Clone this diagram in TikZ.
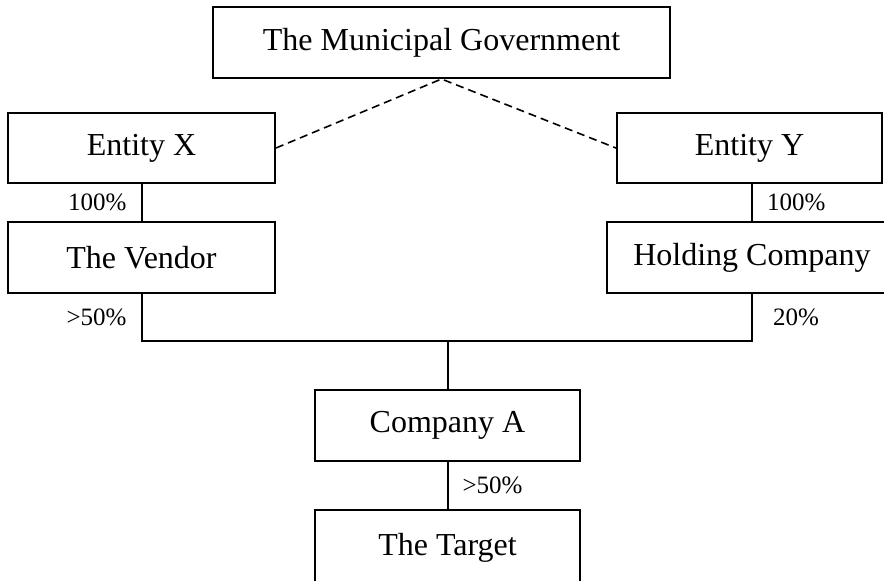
\documentclass[tikz,border=0pt]{standalone}
\usepackage{fontspec}
\setmainfont{Liberation Serif}
\usetikzlibrary{positioning}

\tikzset{
  box/.style={draw, line width=1pt, minimum height=35.5pt, inner sep=0pt,
    font=\fontsize{16}{19}\selectfont},
  pct/.style={font=\fontsize{12.5}{15}\selectfont, inner sep=0pt},
  link/.style={line width=1pt},
  tie/.style={line width=0.8pt, dash pattern=on 4pt off 2.5pt}
}

\begin{document}
\begin{tikzpicture}[x=0.5pt, y=-0.5pt]
  % page frame
  \useasboundingbox (0,0) rectangle (884,580);
  \clip (0,0) rectangle (884,580);

  % top owner
  \node[box, minimum width=228.5pt] (gov) at (441.5,42.5) {The Municipal Government};

  % left column
  \node[box, minimum width=133.5pt, minimum height=35pt] (ex) at (141.5,148) {Entity X};
  \node[box, minimum width=133.5pt] (vendor) at (141.5,257.5) {The Vendor};

  % right column
  \node[box, minimum width=132.5pt, minimum height=35pt] (ey) at (749.5,148) {Entity Y};
  \node[box, minimum width=145pt] (hold) at (752,257.5) {Holding Company};

  % bottom of the chain
  \node[box, minimum width=132.5pt] (compa) at (447.5,425.5) {Company A};
  \node[box, minimum width=132.5pt, minimum height=37.5pt] (target) at (447.5,547.5) {The Target};

  % joint holding point
  \coordinate (join) at (447.5,341);

  % government ties
  \draw[tie] (ex.east) -- (gov.south) -- (ey.west);

  % ownership lines
  \draw[link] (ex.south) -- node[pct, left=7pt] (p1) {100\%} (vendor.north);
  \draw[link] (hold.north |- ey.south) -- node[pct, right=7pt] (p2) {100\%} (hold.north);
  \draw[link] (vendor.south) |- node[pct, pos=0.25, left=7pt] (p3) {>50\%} (join);
  \draw[link] (join) -| node[pct, pos=0.75, right=10pt] (p4) {20\%} (hold.south);
  \draw[link] (join) -- (compa.north);
  \draw[link] (compa.south) -- node[pct, right=7pt] (p5) {>50\%} (target.north);
\end{tikzpicture}
\end{document}
